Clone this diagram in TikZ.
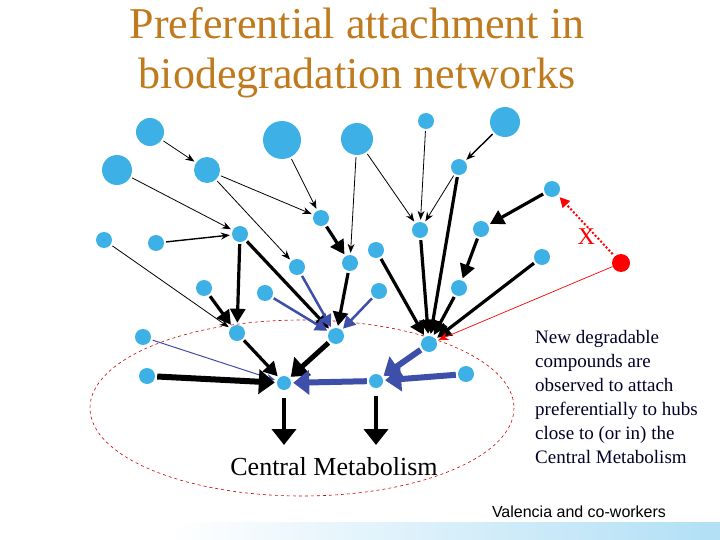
\documentclass[tikz,border=0pt]{standalone}
\usepackage{fontspec}
\setmainfont{Liberation Serif}
\newfontfamily\sansf{Liberation Sans}
\usetikzlibrary{arrows.meta}
\definecolor{nodeblue}{HTML}{3DB0E6}
\definecolor{edgeblue}{HTML}{3D4FA8}
\definecolor{titlec}{HTML}{C07A1E}
\begin{document}
\begin{tikzpicture}[x=1pt,y=-1pt,
  cpd/.style={circle,fill=nodeblue,inner sep=0pt,minimum size=#1},
  cpd/.default=16pt,
  thn/.style={draw=black,line width=0.8pt,-{Stealth[length=9pt,width=7pt]},shorten >=2pt,shorten <=2pt},
  thk/.style={draw=black,line width=3.2pt,-{Triangle[length=14pt,width=15pt]},shorten >=2pt,shorten <=2pt},
  vthk/.style={draw=black,line width=6pt,-{Triangle[length=16pt,width=24pt]},shorten >=2pt,shorten <=2pt},
  bmed/.style={draw=edgeblue,line width=2.5pt,-{Triangle[length=12pt,width=13pt]},shorten >=2pt,shorten <=2pt},
  bthn/.style={draw=edgeblue,line width=1pt,-{Stealth[length=9pt,width=7pt]},shorten >=2pt,shorten <=2pt},
  bthk/.style={draw=edgeblue,line width=6pt,-{Triangle[length=16pt,width=24pt]},shorten >=2pt,shorten <=2pt}]
\useasboundingbox (0,0) rectangle (720,540);
\shade[left color=white,right color=nodeblue!40] (168,522) rectangle (720,540);
\node[text=titlec,font=\fontsize{44}{50}\selectfont,align=center] (title) at (357,53) {Preferential attachment in\\biodegradation networks};
\draw[red!80!black,dashed,line width=0.6pt] (302,408) ellipse [x radius=212,y radius=88];
\node[cpd=28pt] (n1) at (150,132) {};
\node[cpd=38pt] (n2) at (282,140) {};
\node[cpd=32pt] (n3) at (357,139) {};
\node[cpd] (n4) at (426,121) {};
\node[cpd=30pt] (n5) at (505,122) {};
\node[cpd=30pt] (n6) at (117,170) {};
\node[cpd=26pt] (n7) at (207,170) {};
\node[cpd] (n8) at (459,167) {};
\node[cpd] (n9) at (552,189) {};
\node[cpd] (n10) at (321,218) {};
\node[cpd] (n11) at (240,234) {};
\node[cpd] (n12) at (420,230) {};
\node[cpd] (n13) at (481,229) {};
\node[cpd] (n14) at (104,240) {};
\node[cpd] (n15) at (156,243) {};
\node[cpd] (n16) at (376,250) {};
\node[cpd] (n17) at (350,263) {};
\node[cpd] (n18) at (297,267) {};
\node[cpd] (n19) at (542,257) {};
\node[cpd] (n20) at (204,288) {};
\node[cpd] (n21) at (265,293) {};
\node[cpd] (n22) at (379,291) {};
\node[cpd] (n23) at (459,288) {};
\node[cpd] (n24) at (237,333) {};
\node[cpd] (n25) at (336,336) {};
\node[cpd] (n26) at (429,344) {};
\node[cpd] (n27) at (143,337) {};
\node[cpd] (n28) at (147,376) {};
\node[cpd=14pt] (n29) at (284,383) {};
\node[cpd=14pt] (n30) at (376,381) {};
\node[cpd] (n31) at (466,374) {};
\node[circle,fill=red,inner sep=0pt,minimum size=18pt] (red) at (621,263) {};
\coordinate (d1) at (284,447);
\coordinate (d2) at (376,447);
% thin
\draw[thn] (n1) -- (n7);
\draw[thn] (n6) -- (n11);
\draw[thn] (n7) -- (n10);
\draw[thn] (n7) -- (n18);
\draw[thn] (n2) -- (n10);
\draw[thn] (n3) -- (n17);
\draw[thn] (n3) -- (n12);
\draw[thn] (n4) -- (n12);
\draw[thn,line width=1.4pt] (n5) -- (n8);
\draw[thn] (n8) -- (n12);
\draw[thn,line width=1.4pt] (n15) -- (n11);
\draw[thn] (n14) -- (n24);
% thick
\draw[thk] (n8) -- (n26);
\draw[thk] (n9) -- (n13);
\draw[thk] (n13) -- (n23);
\draw[thk] (n10) -- (n17);
\draw[thk] (n11) -- (n24);
\draw[thk] (n11) -- (n25);
\draw[thk] (n12) -- (n26);
\draw[thk] (n16) -- (n26);
\draw[thk] (n19) -- (n26);
\draw[thk] (n23) -- (n26);
\draw[thk] (n17) -- (n25);
\draw[thk] (n20) -- (n24);
\draw[thk] (n24) -- (n29);
\draw[bmed] (n18) -- (n25);
\draw[bmed] (n21) -- (n25);
\draw[bmed] (n22) -- (n25);
\draw[bthn] (n27) -- (n29);
\draw[vthk,line width=5pt] (n25) -- (n29);
\draw[vthk] (n28) -- (n29);
\draw[bthk] (n30) -- (n29);
\draw[bthk] (n26) -- (n30);
\draw[bthk] (n31) -- (n30);
\draw[vthk,line width=4.5pt,shorten <=8pt] (n29) -- (d1);
\draw[vthk,line width=4.5pt,shorten <=8pt] (n30) -- (d2);
\draw[red,line width=2pt,dotted,-{Triangle[length=10pt,width=10pt]},shorten >=3pt,shorten <=3pt] (red) -- (n9) node[pos=0.4,below left=-4pt,text=red,font=\fontsize{24}{24}\selectfont,inner sep=0pt] (x) {X};
\draw[red,line width=0.7pt,-{Stealth[length=10pt,width=8pt]},shorten >=2pt] (red) -- (n26);
\node[font=\fontsize{26}{28}\selectfont] (cm) at (334,467) {Central Metabolism};
\node[anchor=north west,align=left,text=black!85!blue,font=\fontsize{19}{24}\selectfont,inner sep=0pt] (txt) at (535,330) {New degradable\\compounds are\\observed to attach\\preferentially to hubs\\close to (or in) the\\Central Metabolism};
\node[font=\sansf\fontsize{16}{16}\selectfont] (cred) at (579,512) {Valencia and co-workers};
\end{tikzpicture}
\end{document}
